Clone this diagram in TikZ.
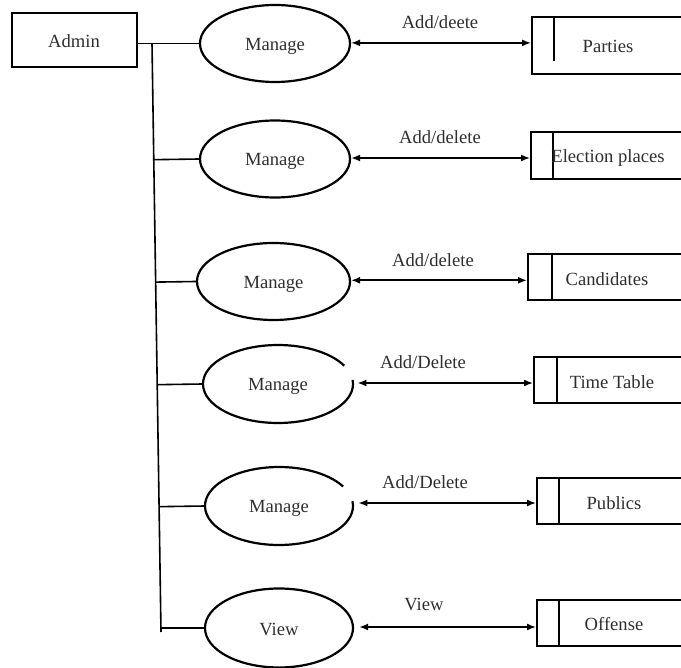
\documentclass[tikz,border=0pt]{standalone}
\usepackage{fontspec}
\setmainfont{Liberation Serif}
\usetikzlibrary{calc,arrows.meta,shapes.geometric}
\begin{document}
\begin{tikzpicture}[x=0.5pt,y=-0.5pt,
  txt/.style={font=\fontsize{9.3}{11}\selectfont, text=black!82, inner sep=0pt},
  ent/.style={draw, line width=1.1pt, rectangle, inner sep=0pt},
  store/.style={draw, line width=1.1pt, rectangle, inner sep=0pt, minimum width=100pt, anchor=north west},
  proc/.style={ellipse, draw, line width=1.1pt, inner sep=0pt, text height=9pt, text depth=2pt, font=\fontsize{9.3}{11}\selectfont, text=black!82},
  procopen/.style={ellipse, inner sep=0pt, text height=9pt, text depth=2pt, font=\fontsize{9.3}{11}\selectfont, text=black!82},
  conn/.style={line width=0.8pt},
  flow/.style={line width=0.8pt, {Latex[length=4.5pt,width=3.5pt]}-{Latex[length=4.5pt,width=3.5pt]}}
]
\useasboundingbox (0,0) rectangle (681,668);
\clip (0,0) rectangle (681,668);

% Admin
\node[ent, minimum width=62.5pt, minimum height=27pt] (admin) at (74.5,40) {};
\node[txt] (admintxt) at (74,41) {Admin};

% processes
\node[proc, minimum width=75pt, minimum height=38.5pt] (e1) at (275,43.5) {Manage};
\node[proc, minimum width=75pt, minimum height=38.5pt] (e2) at (275,159) {Manage};
\node[proc, minimum width=76.5pt, minimum height=38.5pt] (e3) at (273.5,281.5) {Manage};
\node[procopen, minimum width=75pt, minimum height=39pt] (e4) at (278,384) {Manage};
\node[procopen, minimum width=74pt, minimum height=39pt] (e5) at (279,506) {Manage};
\node[proc, minimum width=74pt, minimum height=39.5pt] (e6) at (279,628) {View};

% open ellipses (gap at upper right)
\draw[line width=1.1pt] ($(e4.center)+(-6:75 and 39)$) arc[start angle=-6, end angle=332, x radius=75, y radius=39];
\draw[line width=1.1pt] ($(e5.center)+(-7:74 and 39)$) arc[start angle=-7, end angle=330, x radius=74, y radius=39];

% data stores
\node[store, minimum height=28.5pt] (b1) at (531,16) {};
\node[store, minimum height=23.5pt] (b2) at (530,131) {};
\node[store, minimum height=23pt] (b3) at (527,253) {};
\node[store, minimum height=23pt] (b4) at (533,356) {};
\node[store, minimum height=23pt] (b5) at (536,477) {};
\node[store, minimum height=23pt] (b6) at (536,599) {};
\draw[line width=1.1pt] (554,16) -- (554,61);
\draw[line width=1.1pt] (553,131) -- (553,178);
\draw[line width=1.1pt] (552,253) -- (552,299);
\draw[line width=1.1pt] (557,356) -- (557,402);
\draw[line width=1.1pt] (559,477) -- (559,523);
\draw[line width=1.1pt] (559,599) -- (559,645);
\node[txt] (t1) at (608,46) {Parties};
\node[txt] (t2) at (608,158) {Election places};
\node[txt] (t3) at (607,279) {Candidates};
\node[txt] (t4) at (612,382) {Time Table};
\node[txt] (t5) at (614,503) {Publics};
\node[txt] (t6) at (614,624) {Offense};

% trunk and branches
\coordinate (vtop) at (152,43.5);
\coordinate (vbot) at (161,632);
\draw[conn] (e1.west) -- (e1.west -| admin.east);
\draw[conn] (vtop) -- (vbot);
\draw[conn] (e2.west) -- ($(vtop)!(e2.west)!(vbot)$);
\draw[conn] (e3.west) -- ($(vtop)!(e3.west)!(vbot)$);
\draw[conn] (e4.west) -- ($(vtop)!(e4.west)!(vbot)$);
\draw[conn] (e5.west) -- ($(vtop)!(e5.west)!(vbot)$);
\draw[conn] (e6.west) -- (vbot |- e6.west);

% flows
\draw[flow] ([yshift=0.3pt]e1.east) -- ([yshift=0.3pt]e1.east -| b1.west);
\draw[flow] ([yshift=0.5pt]e2.east) -- ([yshift=0.5pt]e2.east -| b2.west);
\draw[flow] ([yshift=0.6pt]e3.east) -- ([yshift=0.6pt]e3.east -| b3.west);
\draw[flow] ([xshift=2pt,yshift=0.5pt]e4.east) -- ([yshift=0.5pt]e4.east -| b4.west);
\draw[flow] ([xshift=2.5pt,yshift=1.5pt]e5.east) -- ([yshift=1.5pt]e5.east -| b5.west);
\draw[flow] ([xshift=2.5pt,yshift=0.5pt]e6.east) -- ([yshift=0.5pt]e6.east -| b6.west);

% flow labels
\node[txt] (l1) at (440,22) {Add/deete};
\node[txt] (l2) at (440,137) {Add/delete};
\node[txt] (l3) at (433,260) {Add/delete};
\node[txt] (l4) at (423,362) {Add/Delete};
\node[txt] (l5) at (425,482) {Add/Delete};
\node[txt] (l6) at (424,604) {View};
\end{tikzpicture}
\end{document}
